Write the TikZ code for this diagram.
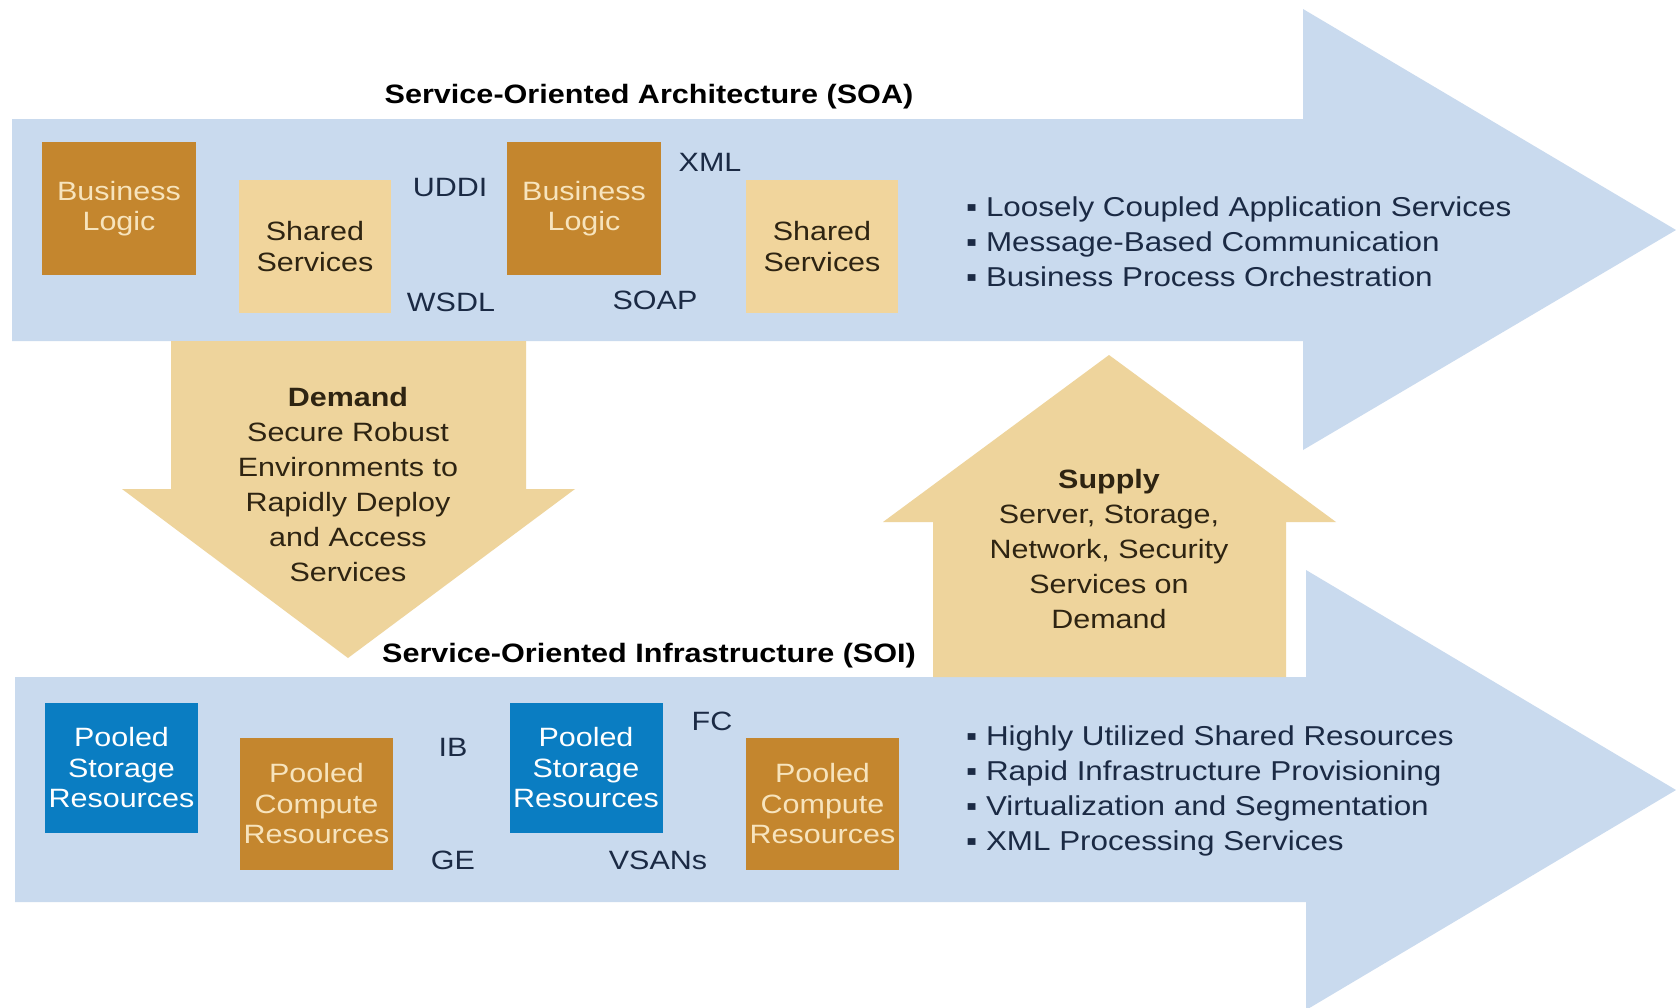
\documentclass[tikz,border=0pt]{standalone}
\usepackage{fontspec}
\setmainfont{Liberation Sans}[FakeStretch=1.15]
\definecolor{band}{HTML}{C9DAEE}
\definecolor{boxbrown}{HTML}{C4862E}
\definecolor{boxcream}{HTML}{F7E4BD}
\definecolor{boxtan}{HTML}{F1D59C}
\definecolor{arrowtan}{HTML}{EED49C}
\definecolor{boxblue}{HTML}{0A7DC2}
\definecolor{navytext}{HTML}{1B2A44}
\definecolor{browntext}{HTML}{2E2412}
\begin{document}
\begin{tikzpicture}[x=1pt,y=-1pt,
  boxfont/.style={font=\fontsize{26.5}{30.5}\selectfont},
  darkbox/.style={boxfont, fill=boxbrown, text=boxcream, minimum width=154pt, minimum height=133pt, inner sep=0pt, align=center},
  lightbox/.style={boxfont, fill=boxtan, text=browntext, minimum width=152pt, minimum height=133pt, inner sep=0pt, align=center},
  bluebox/.style={boxfont, fill=boxblue, text=white, minimum width=153pt, minimum height=130pt, inner sep=0pt, align=center},
  computebox/.style={boxfont, fill=boxbrown, text=boxcream, minimum width=153pt, minimum height=132pt, inner sep=0pt, align=center},
  proto/.style={font=\fontsize{26.5}{30}\selectfont, text=navytext, inner sep=0pt},
  bandtitle/.style={font=\bfseries\fontsize{26.6}{30}\selectfont, text=black, inner sep=0pt},
  bullets/.style={font=\fontsize{27.3}{35}\selectfont, text=navytext, align=left, inner sep=0pt, anchor=west},
  arrowtext/.style={font=\fontsize{26.5}{35}\selectfont, text=browntext, align=center, inner sep=0pt}
]
\useasboundingbox (0,0) rectangle (1676,1007);
\fill[white] (0,0) rectangle (1676,1007);

% big band arrows
\fill[band] (12,119) -- (1303,119) -- (1303,9) -- (1676,230) -- (1303,450) -- (1303,341) -- (12,341) -- cycle;
\fill[band] (15,677) -- (1306,677) -- (1306,570) -- (1676,790) -- (1306,1010) -- (1306,902) -- (15,902) -- cycle;

% demand arrow (down)
\fill[arrowtan] (171,341) -- (526,341) -- (526,489) -- (575,489) -- (348,658) -- (122,489) -- (171,489) -- cycle;
% supply arrow (up)
\fill[arrowtan] (933,677) -- (933,522) -- (883,522) -- (1109,355) -- (1336,522) -- (1286,522) -- (1286,677) -- cycle;

% titles
\node[bandtitle] (soa) at (649,97) {Service-Oriented Architecture (SOA)};
\node[bandtitle] (soi) at (649,656) {Service-Oriented Infrastructure (SOI)};

% SOA boxes
\node[darkbox] (bl1) at (119,208.5) {Business\\Logic};
\node[lightbox] (ss1) at (315,246.5) {Shared\\Services};
\node[darkbox] (bl2) at (584,208.5) {Business\\Logic};
\node[lightbox] (ss2) at (822,246.5) {Shared\\Services};

\node[proto] (uddi) at (450,188) {UDDI};
\node[proto] (wsdl) at (451,302) {WSDL};
\node[proto] (xml) at (710,162) {XML};
\node[proto] (soap) at (655,300) {SOAP};

% SOI boxes
\node[bluebox] (ps1) at (121.5,768) {Pooled\\Storage\\Resources};
\node[computebox] (pc1) at (316.5,804) {Pooled\\Compute\\Resources};
\node[bluebox] (ps2) at (586,768) {Pooled\\Storage\\Resources};
\node[computebox] (pc2) at (822.5,804) {Pooled\\Compute\\Resources};

\node[proto] (ib) at (453,747) {IB};
\node[proto] (ge) at (453,860) {GE};
\node[proto] (fc) at (712,721) {FC};
\node[proto] (vsans) at (658,860) {VSANs};

% bullet lists
\node[bullets] (soalist) at (966,241.5) {▪ Loosely Coupled Application Services\\▪ Message-Based Communication\\▪ Business Process Orchestration};
\node[bullets] (soilist) at (966,791) {▪ Highly Utilized Shared Resources\\▪ Rapid Infrastructure Provisioning\\▪ Virtualization and Segmentation\\▪ XML Processing Services};

% arrow texts
\node[arrowtext] (demand) at (348,485) {\textbf{Demand}\\Secure Robust\\Environments to\\Rapidly Deploy\\and Access\\Services};
\node[arrowtext] (supply) at (1109,549) {\textbf{Supply}\\Server, Storage,\\Network, Security\\Services on\\Demand};
\end{tikzpicture}
\end{document}
